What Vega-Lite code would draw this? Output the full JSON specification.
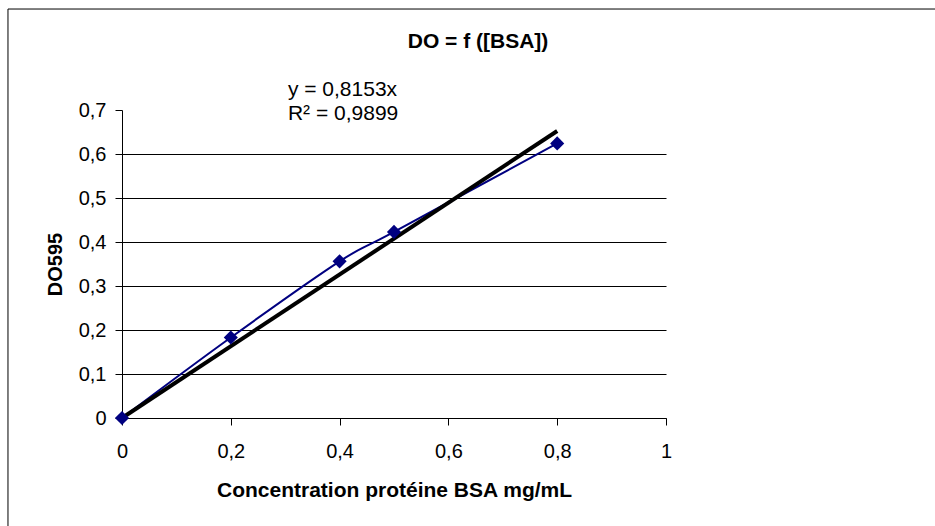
{
  "$schema": "https://vega.github.io/schema/vega-lite/v6.json",
  "width": 544,
  "height": 308,
  "autosize": {"type": "none"},
  "padding": {"left": 122, "top": 110, "right": 269, "bottom": 108},
  "background": "white",
  "title": {
    "text": "DO = f ([BSA])",
    "font": "Liberation Sans",
    "fontSize": 21,
    "fontWeight": "bold",
    "color": "black",
    "anchor": "middle",
    "dx": 84,
    "baseline": "alphabetic",
    "offset": -60
  },
  "config": {
    "view": {"stroke": null},
    "font": "Liberation Sans",
    "axis": {
      "domainColor": "black",
      "tickColor": "black",
      "gridColor": "black",
      "labelColor": "black",
      "titleColor": "black",
      "labelFont": "Liberation Sans",
      "titleFont": "Liberation Sans",
      "labelFontSize": 20,
      "labelFlush": false,
      "tickSize": 7,
      "domainWidth": 1,
      "tickWidth": 1,
      "gridWidth": 1
    }
  },
  "datasets": {
    "mesures": [
      {"bsa": 0, "do595": 0},
      {"bsa": 0.2, "do595": 0.183},
      {"bsa": 0.4, "do595": 0.356},
      {"bsa": 0.5, "do595": 0.423},
      {"bsa": 0.8, "do595": 0.624}
    ],
    "tendance": [
      {"bsa": 0, "do595": 0},
      {"bsa": 0.8, "do595": 0.65224}
    ],
    "equation": [
      {"ligne": "y = 0,8153x", "rang": 1},
      {"ligne": "R² = 0,9899", "rang": 2}
    ]
  },
  "layer": [
    {
      "data": {"values": [{}]},
      "mark": {"type": "rect", "fill": null, "stroke": "black", "strokeWidth": 1, "clip": false},
      "encoding": {
        "x": {"datum": -0.2096, "type": "quantitative"},
        "x2": {"datum": 1.7},
        "y": {"datum": 0.9295, "type": "quantitative"},
        "y2": {"datum": -0.5}
      }
    },
    {
      "data": {"name": "mesures"},
      "mark": {"type": "line", "color": "#000080", "strokeWidth": 2, "interpolate": "cardinal"},
      "encoding": {
        "x": {
          "field": "bsa",
          "type": "quantitative",
          "scale": {"domain": [0, 1], "nice": false},
          "axis": {
            "values": [0, 0.2, 0.4, 0.6, 0.8, 1],
            "grid": false,
            "format": ".1~f",
            "labelExpr": "replace(datum.label, '.', ',')",
            "labelPadding": 16,
            "title": "Concentration protéine BSA mg/mL",
            "titleFontSize": 21,
            "titleFontWeight": "bold",
            "titlePadding": 18
          }
        },
        "y": {
          "field": "do595",
          "type": "quantitative",
          "scale": {"domain": [0, 0.7], "nice": false},
          "axis": {
            "values": [0, 0.1, 0.2, 0.3, 0.4, 0.5, 0.6, 0.7],
            "grid": true,
            "gridOpacity": {"condition": {"test": "datum.value > 0.65", "value": 0}, "value": 1},
            "format": ".1~f",
            "labelExpr": "replace(datum.label, '.', ',')",
            "labelPadding": 9,
            "title": "DO595",
            "titleFontSize": 20,
            "titleFontWeight": "bold",
            "titlePadding": 13
          }
        }
      }
    },
    {
      "data": {"name": "tendance"},
      "mark": {"type": "line", "color": "black", "strokeWidth": 4},
      "encoding": {
        "x": {"field": "bsa", "type": "quantitative"},
        "y": {"field": "do595", "type": "quantitative"}
      }
    },
    {
      "data": {"name": "mesures"},
      "mark": {"type": "point", "shape": "diamond", "filled": true, "color": "#000080", "size": 200, "opacity": 1},
      "encoding": {
        "x": {"field": "bsa", "type": "quantitative"},
        "y": {"field": "do595", "type": "quantitative"}
      }
    },
    {
      "data": {"name": "equation"},
      "transform": [{"filter": "datum.rang == 1"}],
      "mark": {"type": "text", "align": "left", "baseline": "alphabetic", "fontSize": 21, "color": "black", "font": "Liberation Sans"},
      "encoding": {
        "x": {"datum": 0.305, "type": "quantitative"},
        "y": {"datum": 0.732, "type": "quantitative"},
        "text": {"field": "ligne"}
      }
    },
    {
      "data": {"name": "equation"},
      "transform": [{"filter": "datum.rang == 2"}],
      "mark": {"type": "text", "align": "left", "baseline": "alphabetic", "fontSize": 21, "color": "black", "font": "Liberation Sans"},
      "encoding": {
        "x": {"datum": 0.305, "type": "quantitative"},
        "y": {"datum": 0.677, "type": "quantitative"},
        "text": {"field": "ligne"}
      }
    }
  ]
}
